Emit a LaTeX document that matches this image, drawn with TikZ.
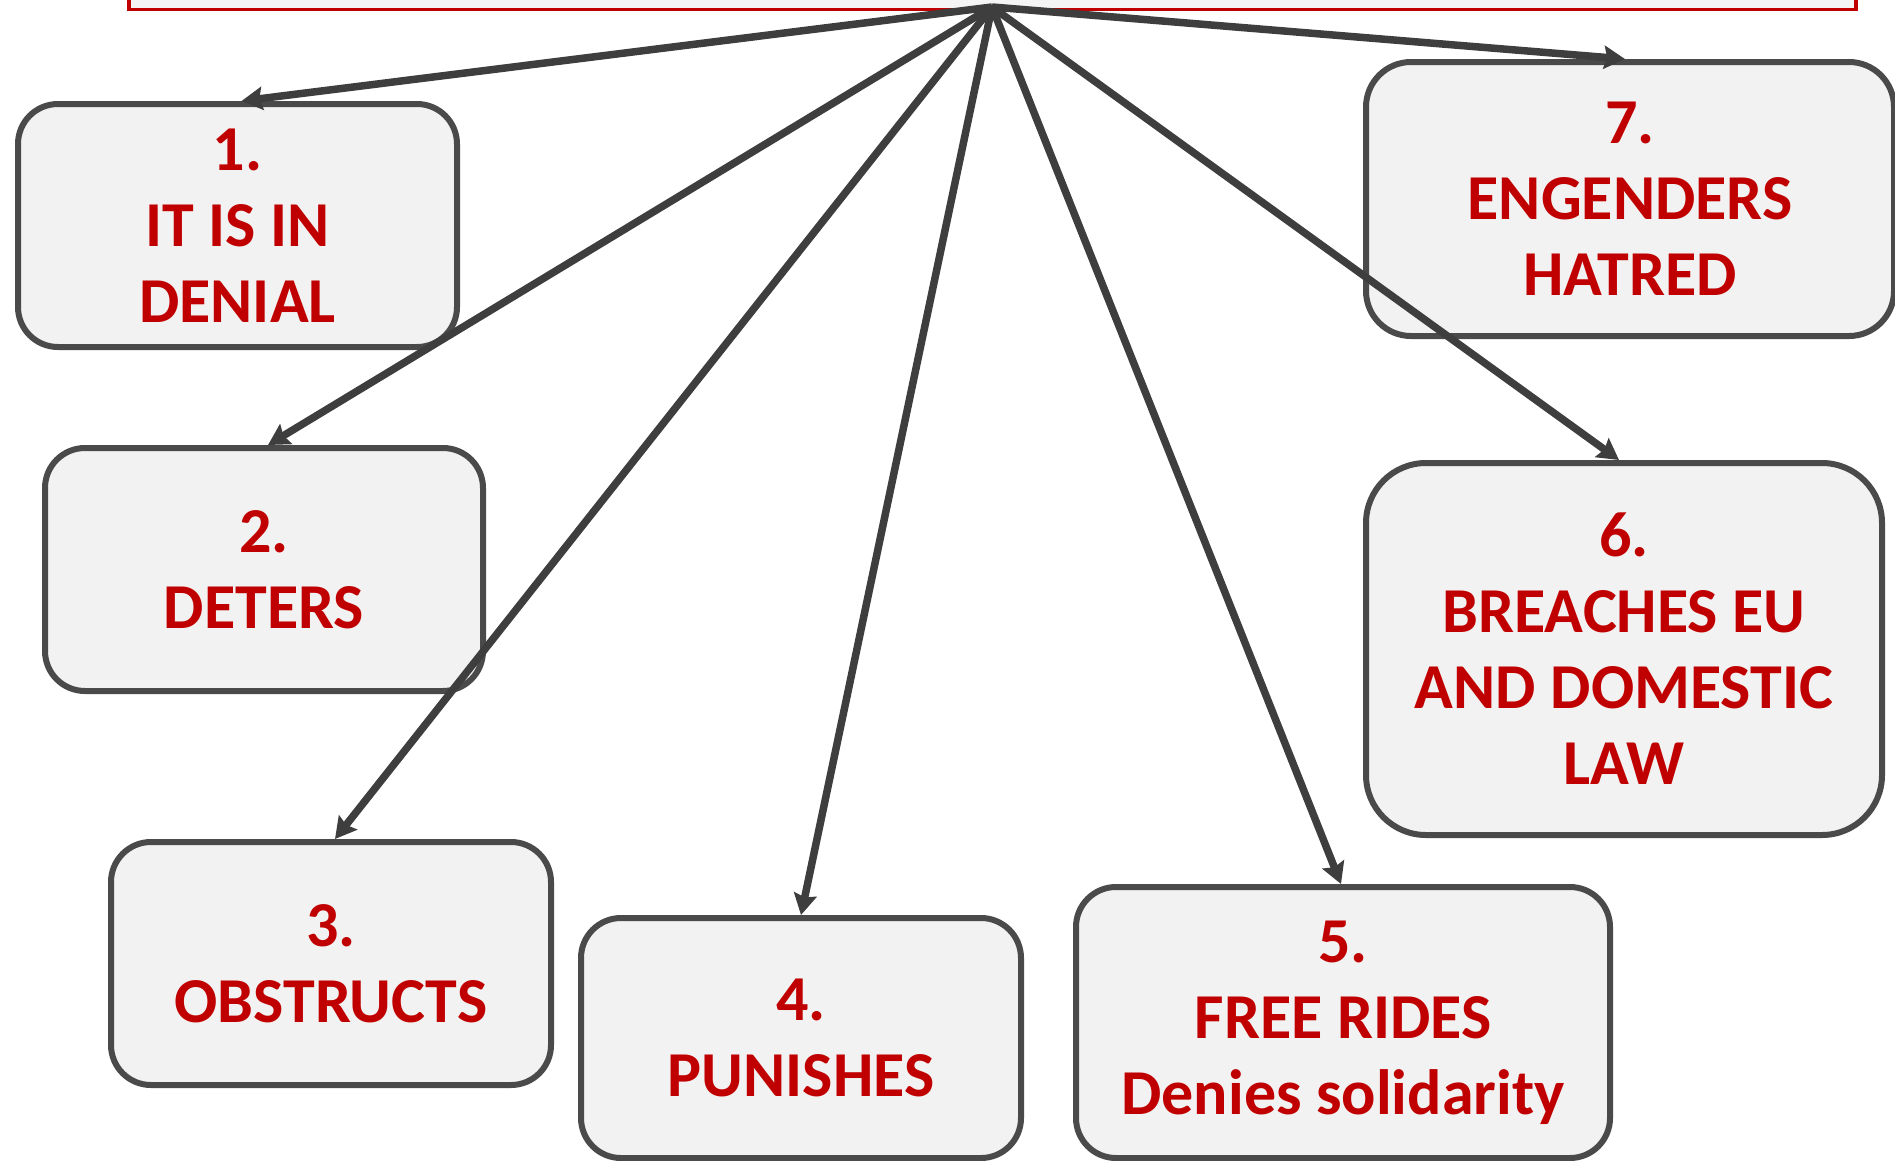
\documentclass[tikz,border=0pt]{standalone}
\usepackage{fontspec}
\setmainfont{Carlito}
\usetikzlibrary{arrows.meta}
\definecolor{txtred}{HTML}{C00000}
\definecolor{boxfill}{HTML}{F2F2F2}
\definecolor{boxline}{HTML}{4A4A4A}
\definecolor{arrline}{HTML}{3E3E3E}
\begin{document}
\begin{tikzpicture}[x=1pt,y=-1pt,
  item/.style={draw=boxline, fill=boxfill, line width=6pt, rounded corners=40pt,
    align=center, text=txtred, font=\bfseries\fontsize{64}{76}\selectfont, inner sep=0pt},
  conn/.style={draw=arrline, line width=7.5pt, -{Stealth[length=21pt,width=23pt,inset=3pt]}},
  topbox/.style={draw=txtred, fill=white!96!black, line width=3.5pt, inner sep=0pt}]
\useasboundingbox (0,0) rectangle (1895,1160);
\node[topbox, minimum width=1727pt, minimum height=80pt] (top) at (992.5,-30.5) {};
\coordinate (hub) at (992,7);
\node[item, minimum width=439pt, minimum height=243pt] (b1) at (237.5,225.5) {1.\\IT IS IN\\DENIAL};
\node[item, minimum width=438pt, minimum height=243pt] (b2) at (264,569.5) {2.\\DETERS};
\node[item, minimum width=440pt, minimum height=243pt] (b3) at (331,963.5) {3.\\OBSTRUCTS};
\node[item, minimum width=440pt, minimum height=240pt] (b4) at (801,1038) {4.\\PUNISHES};
\node[item, minimum width=534pt, minimum height=271pt] (b5) at (1343,1022.5) {5.\\FREE RIDES\\Denies solidarity};
\node[item, minimum width=516pt, minimum height=372pt, rounded corners=60pt] (b6) at (1624,649) {6.\\BREACHES EU\\AND DOMESTIC\\LAW};
\node[item, minimum width=528pt, minimum height=274pt, rounded corners=45pt] (b7) at (1630,199) {7.\\ENGENDERS\\HATRED};
\draw[conn] (hub) -- ([xshift=4pt]b1.north);
\draw[conn] (hub) -- ([xshift=4pt]b2.north);
\draw[conn] (hub) -- ([xshift=4pt]b3.north);
\draw[conn] (hub) -- (b4.north);
\draw[conn] (hub) -- ([xshift=-2pt]b5.north);
\draw[conn] (hub) -- ([xshift=-5pt]b6.north);
\draw[conn] (hub) -- ([xshift=-5pt]b7.north);
\end{tikzpicture}
\end{document}
